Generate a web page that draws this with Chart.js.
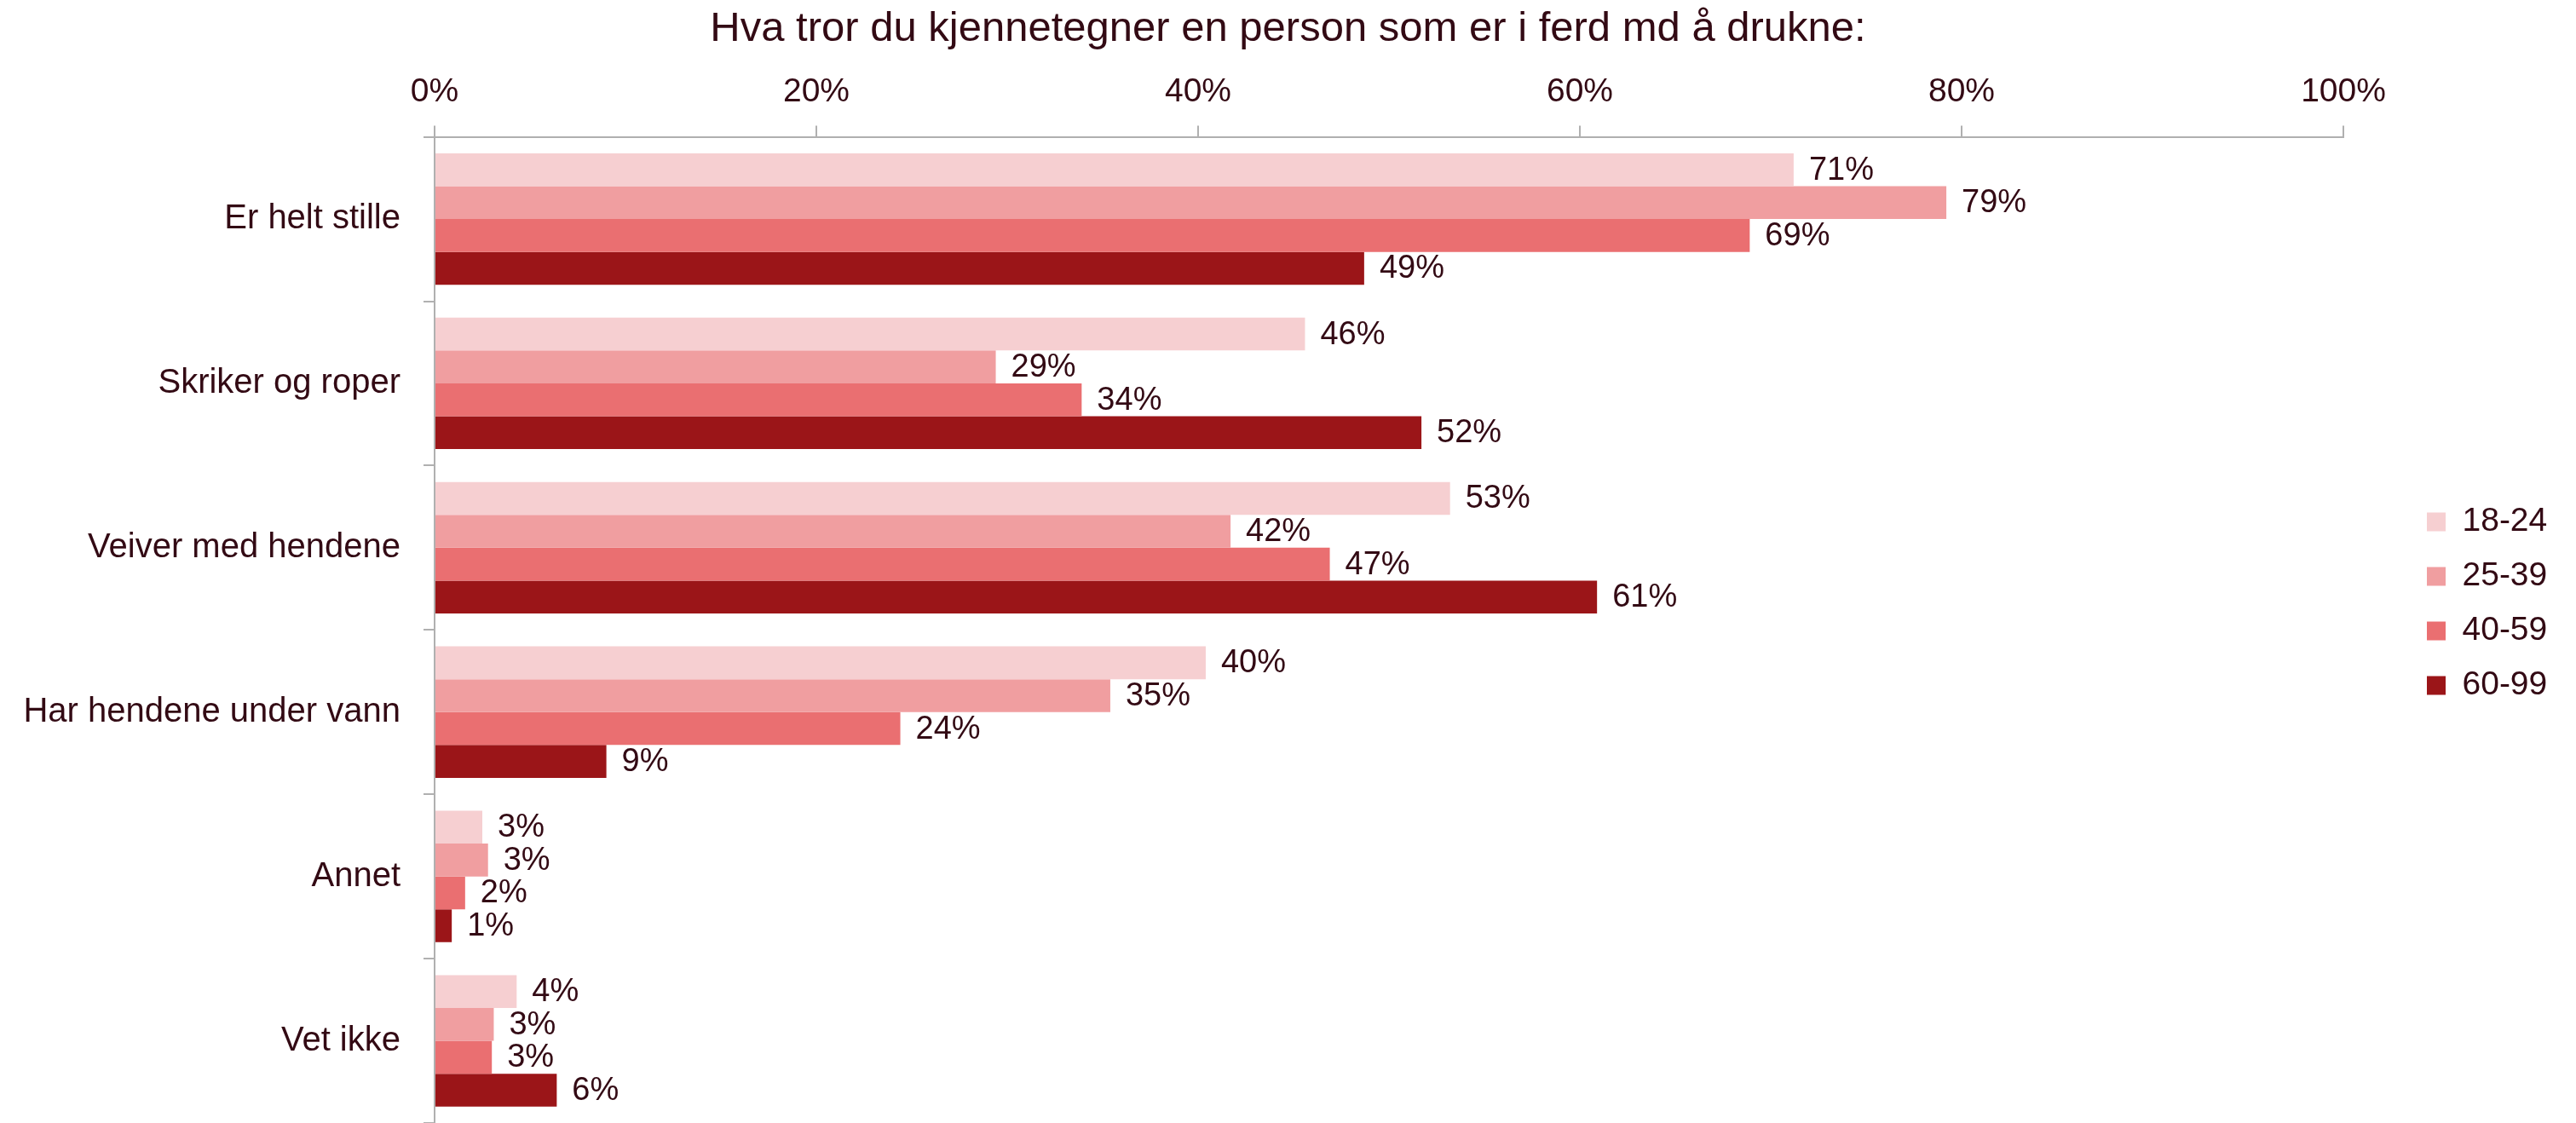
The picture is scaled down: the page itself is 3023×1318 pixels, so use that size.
<!DOCTYPE html>
<html>
<head>
<meta charset="utf-8">
<script src="https://cdn.jsdelivr.net/npm/chart.js@4/dist/chart.umd.min.js"></script>
<style>
  html, body { margin: 0; padding: 0; background: #ffffff; }
  #wrap { width: 3023px; height: 1318px; position: relative; }
</style>
</head>
<body>
<div id="wrap"><canvas id="c"></canvas></div>
<script>
const titleText = 'Hva tror du kjennetegner en person som er i ferd md å drukne:';
const categories = ['Er helt stille', 'Skriker og roper', 'Veiver med hendene', 'Har hendene under vann', 'Annet', 'Vet ikke'];
const seriesNames = ['18-24', '25-39', '40-59', '60-99'];
const age18_24 = [71.2, 45.6, 53.2, 40.4, 2.5, 4.3];
const age25_39 = [79.2, 29.4, 41.7, 35.4, 2.8, 3.1];
const age40_59 = [68.9, 33.9, 46.9, 24.4, 1.6, 3.0];
const age60_99 = [48.7, 51.7, 60.9, 9.0, 0.9, 6.4];
const xTicks = [0, 20, 40, 60, 80, 100];

const colors = ['#F6CFD1', '#F09EA0', '#EA6F71', '#9B1518'];
const textColor = '#330A14';
const axisColor = '#B0B0B0';
const FONT = "'Liberation Sans', Arial, sans-serif";

const seriesValues = [age18_24, age25_39, age40_59, age60_99];

const valueLabels = {
  id: 'valueLabels',
  afterDatasetsDraw(chart) {
    const ctx = chart.ctx;
    ctx.save();
    ctx.font = '38px ' + FONT;
    ctx.fillStyle = textColor;
    ctx.textAlign = 'left';
    ctx.textBaseline = 'middle';
    chart.data.datasets.forEach((ds, di) => {
      const meta = chart.getDatasetMeta(di);
      meta.data.forEach((el, i) => {
        ctx.fillText(Math.round(ds.data[i]) + '%', el.x + 18, el.y + 1);
      });
    });
    ctx.restore();
  }
};

const legendPlace = {
  id: 'legendPlace',
  beforeLayout(chart) {
    const lg = chart.legend;
    if (lg && !lg._patched) {
      const orig = lg.fit;
      lg.fit = function () { orig.call(this); this.width = 273; };
      lg._patched = true;
    }
  },
  afterLayout(chart) {
    const lg = chart.legend;
    if (!lg) return;
    const w = lg.width, h = lg.height;
    lg.left = 2823; lg.right = 2823 + w;
    lg.top = 568; lg.bottom = 568 + h;
  }
};

new Chart(document.getElementById('c'), {
  type: 'bar',
  data: {
    labels: categories,
    datasets: seriesNames.map((n, k) => ({
      label: n,
      data: seriesValues[k],
      backgroundColor: colors[k],
      borderWidth: 0,
      categoryPercentage: 0.8,
      barPercentage: 1.0
    }))
  },
  options: {
    indexAxis: 'y',
    responsive: true,
    maintainAspectRatio: false,
    animation: false,
    layout: { padding: { left: 0, right: 0, top: 0, bottom: -4 } },
    plugins: {
      title: {
        display: true,
        text: titleText,
        color: textColor,
        font: { family: FONT, size: 49, weight: 'normal', lineHeight: 1.2 },
        padding: { top: 5, bottom: 5 }
      },
      legend: {
        display: true,
        position: 'right',
        align: 'start',
        labels: {
          color: textColor,
          font: { family: FONT, size: 39 },
          boxWidth: 22,
          boxHeight: 22,
          padding: 25
        }
      },
      tooltip: { enabled: false }
    },
    scales: {
      x: {
        position: 'top',
        min: 0,
        max: 100,
        afterBuildTicks(scale) { scale.ticks = xTicks.map(v => ({ value: v })); },
        ticks: {
          color: textColor,
          font: { family: FONT, size: 39 },
          padding: 16,
          maxRotation: 0,
          callback: (v) => v + '%'
        },
        grid: { drawOnChartArea: false, drawTicks: true, tickLength: 13, color: axisColor, lineWidth: 2 },
        border: { display: true, color: axisColor, width: 2 }
      },
      y: {
        afterFit(scale) { scale.width = 510; scale.paddingTop = 0; scale.paddingBottom = -4; },
        ticks: {
          color: textColor,
          font: { family: FONT, size: 40 },
          padding: 27
        },
        grid: { drawOnChartArea: false, drawTicks: true, tickLength: 13, color: axisColor, lineWidth: 2, offset: true },
        border: { display: true, color: axisColor, width: 2 }
      }
    }
  },
  plugins: [valueLabels, legendPlace]
});
</script>
</body>
</html>
